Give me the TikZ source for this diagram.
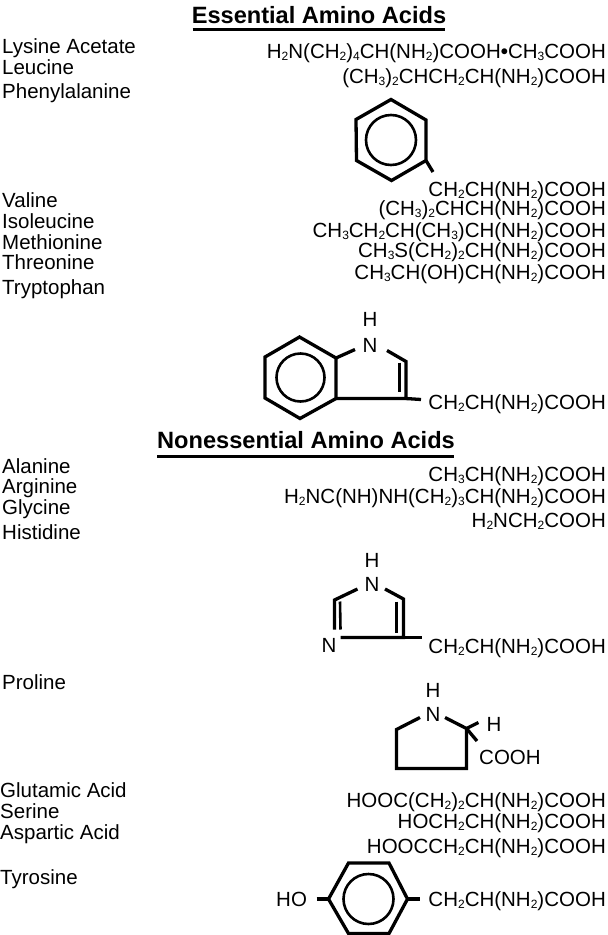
\documentclass[tikz,border=0pt]{standalone}
\usepackage{fontspec}
\setmainfont{Liberation Sans}
\newcommand{\sbs}[1]{\raisebox{-2.6pt}{\fontsize{12}{12}\selectfont #1}}
\tikzset{
  acid/.style={anchor=base west, inner sep=0pt, yshift=-1.4pt, font=\fontsize{20.5}{24}\selectfont},
  formula/.style={anchor=base east, inner sep=0pt, yshift=-1.3pt, font=\fontsize{20.5}{24}\selectfont},
  atom/.style={inner sep=0pt, font=\fontsize{20.5}{24}\selectfont},
  headline/.style={anchor=base, inner sep=0pt, font=\fontsize{23.6}{28}\selectfont\bfseries},
  bond/.style={line width=3.3pt, line join=miter},
  thinbond/.style={line width=2.6pt},
  headrule/.style={line width=3.4pt}
}
\begin{document}
\begin{tikzpicture}[x=1pt,y=-1pt]
\useasboundingbox (0,0) rectangle (608,935);
% essential
\node[headline] (tEss) at (319,23){Essential Amino Acids};
\coordinate (rEssA) at (192.5,29.5);
\coordinate (rEssB) at (445,29.5);
\draw[headrule](rEssA) -- (rEssB);
\node[acid] (nLys) at (2,52){Lysine Acetate};
\node[acid] (nLeu) at (2,73){Leucine};
\node[acid] (nPhe) at (2,97){Phenylalanine};
\node[acid] (nVal) at (2,206){Valine};
\node[acid] (nIle) at (2,227){Isoleucine};
\node[acid] (nMet) at (2,248){Methionine};
\node[acid] (nThr) at (2,268){Threonine};
\node[acid] (nTrp) at (2,293){Tryptophan};
\node[formula] (fLys) at (606,57){H\sbs{2}N(CH\sbs{2})\sbs{4}CH(NH\sbs{2})COOH\textbf{•}CH\sbs{3}COOH};
\node[formula] (fLeu) at (606,82){(CH\sbs{3})\sbs{2}CHCH\sbs{2}CH(NH\sbs{2})COOH};
\node[formula] (fPhe) at (606,195){CH\sbs{2}CH(NH\sbs{2})COOH};
\node[formula] (fVal) at (606,214){(CH\sbs{3})\sbs{2}CHCH(NH\sbs{2})COOH};
\node[formula] (fIle) at (606,236){CH\sbs{3}CH\sbs{2}CH(CH\sbs{3})CH(NH\sbs{2})COOH};
\node[formula] (fMet) at (606,256){CH\sbs{3}S(CH\sbs{2})\sbs{2}CH(NH\sbs{2})COOH};
\node[formula] (fThr) at (606,278){CH\sbs{3}CH(OH)CH(NH\sbs{2})COOH};
\node[formula] (fTrp) at (606,408){CH\sbs{2}CH(NH\sbs{2})COOH};
% phenylalanine ring
\coordinate (p1) at (391,99.5);
\coordinate (p2) at (426,120);
\coordinate (p3) at (426,160.5);
\coordinate (p4) at (391.5,180.5);
\coordinate (p5) at (356.5,160.5);
\coordinate (p6) at (356,119.5);
\coordinate (pEnd) at (433,172);
\coordinate (pMid) at (391,140);
\draw[bond](p1) -- (p2) -- (p3) -- (p4) -- (p5) -- (p6) -- cycle;
\draw[thinbond](pMid) circle (25);
\draw[bond](p3) -- (pEnd);
% tryptophan rings
\coordinate (w1) at (299.5,337);
\coordinate (w2) at (336,358);
\coordinate (w3) at (336,398.5);
\coordinate (w4) at (300,418.5);
\coordinate (w5) at (265,398);
\coordinate (w6) at (265,357);
\coordinate (wMid) at (300.5,377.5);
\coordinate (w7) at (355,349.5);
\coordinate (w8) at (387,350.5);
\coordinate (w9) at (406,361.5);
\coordinate (w10) at (406,398.5);
\coordinate (w11) at (399.5,362.5);
\coordinate (w12) at (399.5,392);
\coordinate (wEnd) at (421,399.5);
\node[atom] (wH) at (370,319.5){H};
\node[atom] (wN) at (370,345){N};
\draw[bond](w1) -- (w2) -- (w3) -- (w4) -- (w5) -- (w6) -- cycle;
\draw[thinbond](wMid) circle (24);
\draw[bond](w2) -- (w7);
\draw[bond](w8) -- (w9) -- (w10) -- (w3);
\draw[thinbond](w11) -- (w12);
\draw[bond](w10) -- (wEnd);
% nonessential
\node[headline] (tNon) at (306,448){Nonessential Amino Acids};
\coordinate (rNonA) at (157,456.5);
\coordinate (rNonB) at (453.5,456.5);
\draw[headrule](rNonA) -- (rNonB);
\node[acid] (nAla) at (2,472){Alanine};
\node[acid] (nArg) at (2,492){Arginine};
\node[acid] (nGly) at (2,513){Glycine};
\node[acid] (nHis) at (2,538){Histidine};
\node[acid] (nPro) at (2,688){Proline};
\node[acid] (nGlu) at (0,796){Glutamic Acid};
\node[acid] (nSer) at (0,817){Serine};
\node[acid] (nAsp) at (0,838){Aspartic Acid};
\node[acid] (nTyr) at (0,883){Tyrosine};
\node[formula] (fAla) at (606,480){CH\sbs{3}CH(NH\sbs{2})COOH};
\node[formula] (fArg) at (606,502){H\sbs{2}NC(NH)NH(CH\sbs{2})\sbs{3}CH(NH\sbs{2})COOH};
\node[formula] (fGly) at (606,526){H\sbs{2}NCH\sbs{2}COOH};
\node[formula] (fHis) at (606,652){CH\sbs{2}CH(NH\sbs{2})COOH};
\node[formula] (fGlu) at (606,806){HOOC(CH\sbs{2})\sbs{2}CH(NH\sbs{2})COOH};
\node[formula] (fSer) at (606,827){HOCH\sbs{2}CH(NH\sbs{2})COOH};
\node[formula] (fAsp) at (606,852){HOOCCH\sbs{2}CH(NH\sbs{2})COOH};
\node[formula] (fTyr) at (606,905){CH\sbs{2}CH(NH\sbs{2})COOH};
% histidine ring
\node[atom] (hH) at (372,560){H};
\node[atom] (hN1) at (372,584.5){N};
\node[atom] (hN2) at (329,645.5){N};
\coordinate (h1) at (357.5,589);
\coordinate (h2) at (334.5,600);
\coordinate (h3) at (334.5,629.5);
\coordinate (h4) at (340.5,629.5);
\coordinate (h5) at (340,601.5);
\coordinate (h6) at (340.5,637.5);
\coordinate (h7) at (403.5,637.5);
\coordinate (h8) at (403.5,599);
\coordinate (h9) at (385,589);
\coordinate (h10) at (396.5,601.5);
\coordinate (h11) at (396.5,633);
\coordinate (hEnd) at (422,637.5);
\draw[bond](h1) -- (h2) -- (h3);
\draw[thinbond](h4) -- (h5);
\draw[bond](h6) -- (h7) -- (h8) -- (h9);
\draw[thinbond](h10) -- (h11);
\draw[bond](h7) -- (hEnd);
% proline ring
\node[atom] (oH) at (433,690){H};
\node[atom] (oN) at (433,714.5){N};
\node[atom] (oH2) at (494,724.5){H};
\node[atom, anchor=base west] (oC) at (479,764){COOH};
\coordinate (o1) at (420,717.5);
\coordinate (o2) at (396.5,729.5);
\coordinate (o3) at (396.5,768.5);
\coordinate (o4) at (466.5,768.5);
\coordinate (o5) at (466.5,728.5);
\coordinate (o6) at (445,717.5);
\coordinate (o7) at (478.5,722.5);
\coordinate (o8) at (477,741);
\draw[bond](o1) -- (o2) -- (o3) -- (o4) -- (o5) -- (o6);
\draw[bond](o5) -- (o7);
\draw[bond](o5) -- (o8);
% tyrosine ring
\node[atom, anchor=base west] (yHO) at (276,906){HO};
\coordinate (y1) at (348.5,863);
\coordinate (y2) at (389,863);
\coordinate (y3) at (407.5,899);
\coordinate (y4) at (389,933.5);
\coordinate (y5) at (348.5,933.5);
\coordinate (y6) at (328.5,899);
\coordinate (yMid) at (368.5,899);
\coordinate (yA) at (316.5,899);
\coordinate (yB) at (420,899);
\draw[bond](y1) -- (y2) -- (y3) -- (y4) -- (y5) -- (y6) -- cycle;
\draw[thinbond](yMid) circle (25);
\draw[bond](yA) -- (y6);
\draw[bond](y3) -- (yB);
\end{tikzpicture}
\end{document}
